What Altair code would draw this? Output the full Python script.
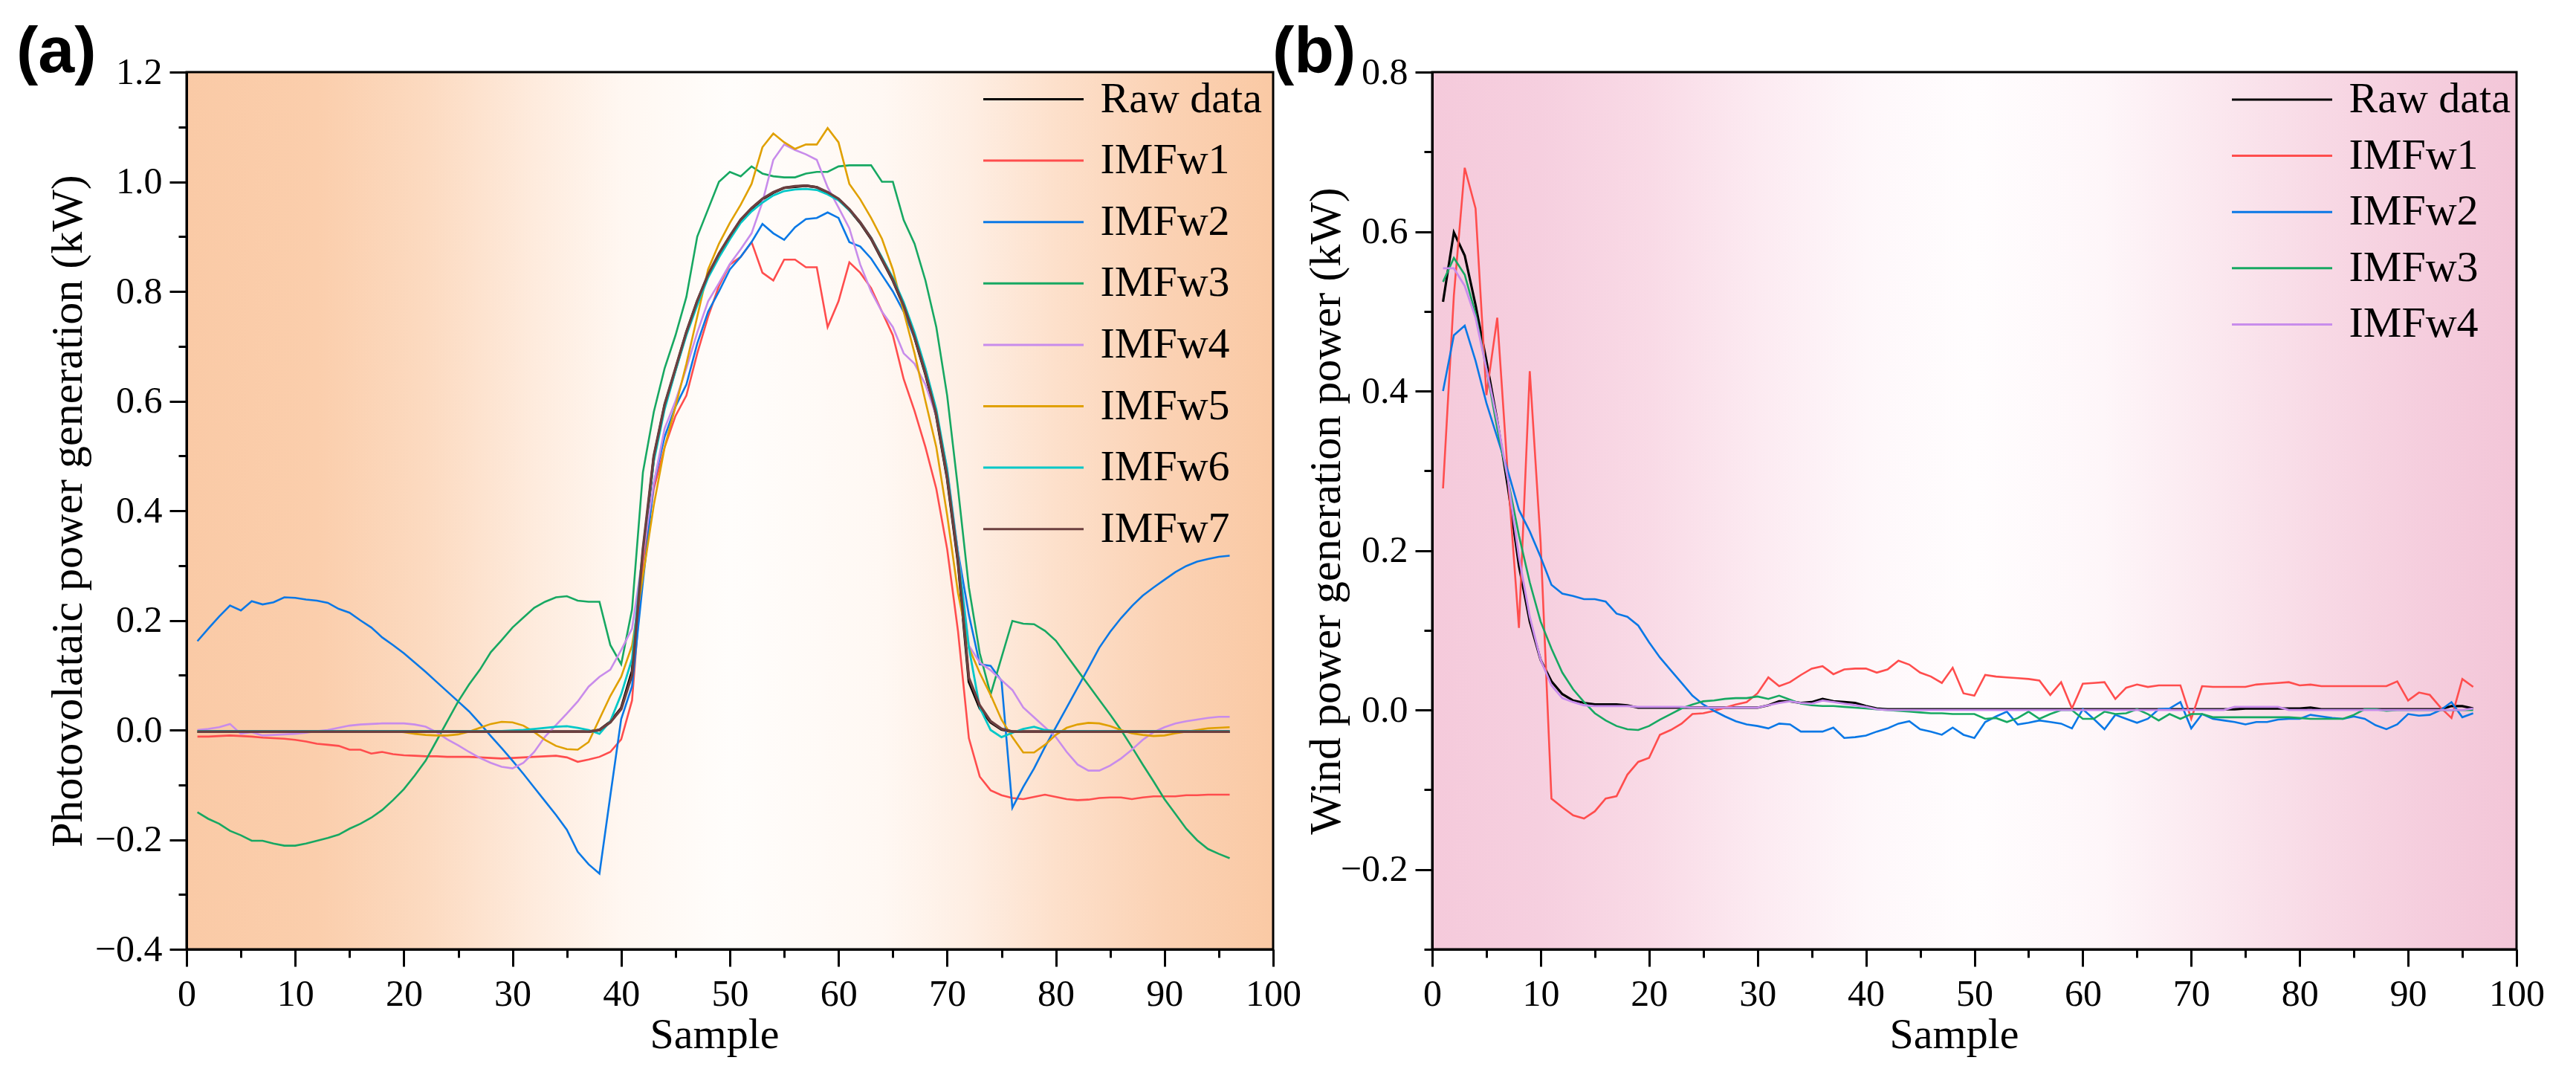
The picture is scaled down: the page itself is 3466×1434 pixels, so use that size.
import altair as alt
import pandas as pd

samples = list(range(1, 97))

# ---------------- panel (a): photovoltaic ----------------
a_names = ["Raw data", "IMFw1", "IMFw2", "IMFw3", "IMFw4", "IMFw5", "IMFw6", "IMFw7"]
a_colors = ["#000000", "#FF4D4D", "#0A78E6", "#17A862", "#C88CEB", "#E0A000", "#00C8C8", "#6B3F3F"]
a_widths = [3.5, 2.6, 2.6, 2.6, 2.6, 2.6, 2.8, 3.5]

a_raw = [
    -0.003, -0.003, -0.003, -0.003, -0.003, -0.003, -0.003, -0.003, -0.003, -0.003, -0.003, -0.003,
    -0.003, -0.003, -0.003, -0.003, -0.003, -0.003, -0.003, -0.003, -0.003, -0.003, -0.003, -0.003,
    -0.003, -0.003, -0.003, -0.003, -0.003, -0.003, -0.003, -0.003, -0.003, -0.003, -0.003, -0.003,
    -0.003, 0.000, 0.015, 0.040, 0.107, 0.320, 0.497, 0.592, 0.658, 0.725, 0.782, 0.830,
    0.868, 0.900, 0.930, 0.951, 0.968, 0.980, 0.989, 0.991, 0.993, 0.990, 0.980, 0.968,
    0.949, 0.925, 0.896, 0.858, 0.820, 0.773, 0.716, 0.649, 0.573, 0.459, 0.306, 0.088,
    0.040, 0.014, 0.001, -0.003, -0.003, -0.003, -0.003, -0.003, -0.003, -0.003, -0.003, -0.003,
    -0.003, -0.003, -0.003, -0.003, -0.003, -0.003, -0.003, -0.003, -0.003, -0.003, -0.003, -0.003,
]
a_w1 = [
    -0.012, -0.012, -0.011, -0.010, -0.011, -0.012, -0.014, -0.015, -0.016, -0.018, -0.021, -0.025,
    -0.027, -0.029, -0.036, -0.036, -0.043, -0.040, -0.044, -0.046, -0.047, -0.048, -0.048, -0.049,
    -0.049, -0.049, -0.050, -0.051, -0.052, -0.051, -0.050, -0.049, -0.048, -0.047, -0.050, -0.058,
    -0.054, -0.049, -0.040, -0.017, 0.054, 0.306, 0.440, 0.516, 0.573, 0.610, 0.687, 0.754,
    0.810, 0.849, 0.863, 0.890, 0.834, 0.820, 0.858, 0.858, 0.844, 0.844, 0.735, 0.782,
    0.853, 0.834, 0.806, 0.763, 0.720, 0.640, 0.582, 0.516, 0.440, 0.330, 0.180, -0.015,
    -0.085, -0.110, -0.119, -0.124, -0.126, -0.122, -0.118, -0.122, -0.126, -0.128, -0.127, -0.124,
    -0.123, -0.123, -0.126, -0.123, -0.121, -0.121, -0.121, -0.119, -0.119, -0.118, -0.118, -0.118,
]
a_w2 = [
    0.162, 0.185, 0.207, 0.227, 0.218, 0.235, 0.229, 0.233, 0.242, 0.241, 0.238, 0.236,
    0.232, 0.221, 0.214, 0.200, 0.187, 0.169, 0.155, 0.140, 0.123, 0.106, 0.088, 0.070,
    0.052, 0.034, 0.012, -0.011, -0.033, -0.056, -0.080, -0.105, -0.130, -0.155, -0.182, -0.222,
    -0.245, -0.262, -0.120, 0.020, 0.080, 0.270, 0.450, 0.535, 0.590, 0.630, 0.705, 0.763,
    0.800, 0.840, 0.863, 0.890, 0.923, 0.906, 0.894, 0.917, 0.932, 0.934, 0.944, 0.934,
    0.890, 0.882, 0.860, 0.830, 0.800, 0.763, 0.715, 0.658, 0.580, 0.460, 0.325, 0.210,
    0.120, 0.117, 0.090, -0.142, -0.104, -0.070, -0.031, 0.005, 0.041, 0.077, 0.113, 0.150,
    0.179, 0.204, 0.226, 0.245, 0.260, 0.274, 0.288, 0.299, 0.307, 0.312, 0.316, 0.318,
]
a_w3 = [
    -0.150, -0.162, -0.171, -0.184, -0.192, -0.202, -0.202, -0.207, -0.211, -0.211, -0.207, -0.202,
    -0.197, -0.191, -0.180, -0.171, -0.160, -0.146, -0.128, -0.108, -0.083, -0.056, -0.020, 0.016,
    0.052, 0.083, 0.110, 0.142, 0.164, 0.187, 0.205, 0.223, 0.234, 0.242, 0.244, 0.236,
    0.234, 0.234, 0.155, 0.120, 0.220, 0.470, 0.580, 0.660, 0.720, 0.790, 0.900, 0.950,
    1.000, 1.018, 1.010, 1.028, 1.015, 1.010, 1.008, 1.008, 1.015, 1.018, 1.018, 1.028,
    1.030, 1.030, 1.030, 1.000, 1.000, 0.930, 0.887, 0.820, 0.735, 0.610, 0.440, 0.260,
    0.140, 0.065, 0.132, 0.199, 0.194, 0.193, 0.181, 0.163, 0.136, 0.109, 0.082, 0.055,
    0.028, 0.000, -0.031, -0.063, -0.094, -0.126, -0.153, -0.180, -0.201, -0.217, -0.226, -0.234,
]
a_w4 = [
    0.000, 0.002, 0.005, 0.011, -0.007, -0.004, -0.010, -0.009, -0.008, -0.007, -0.005, -0.002,
    0.000, 0.004, 0.008, 0.010, 0.011, 0.012, 0.012, 0.012, 0.010, 0.006, -0.004, -0.017,
    -0.028, -0.040, -0.051, -0.060, -0.067, -0.070, -0.060, -0.040, -0.012, 0.009, 0.030, 0.052,
    0.079, 0.097, 0.110, 0.146, 0.185, 0.320, 0.450, 0.550, 0.600, 0.660, 0.725, 0.782,
    0.815, 0.850, 0.877, 0.906, 0.963, 1.040, 1.068, 1.058, 1.050, 1.040, 0.990, 0.953,
    0.915, 0.849, 0.800, 0.763, 0.735, 0.687, 0.668, 0.630, 0.573, 0.478, 0.325, 0.154,
    0.123, 0.109, 0.091, 0.073, 0.041, 0.023, 0.005, -0.013, -0.040, -0.063, -0.074, -0.074,
    -0.065, -0.052, -0.036, -0.018, -0.004, 0.005, 0.012, 0.016, 0.019, 0.022, 0.024, 0.024,
]
a_w5 = [
    -0.002, -0.002, -0.002, -0.002, -0.002, -0.002, -0.002, -0.002, -0.002, -0.002, -0.002, -0.002,
    -0.002, -0.002, -0.002, -0.002, -0.002, -0.002, -0.002, -0.004, -0.007, -0.009, -0.010, -0.010,
    -0.008, -0.003, 0.004, 0.011, 0.015, 0.014, 0.008, -0.004, -0.018, -0.029, -0.035, -0.036,
    -0.022, 0.020, 0.062, 0.097, 0.154, 0.280, 0.410, 0.516, 0.590, 0.668, 0.754, 0.840,
    0.887, 0.925, 0.958, 0.996, 1.063, 1.088, 1.072, 1.060, 1.068, 1.068, 1.098, 1.072,
    0.996, 0.968, 0.934, 0.896, 0.840, 0.763, 0.687, 0.600, 0.516, 0.392, 0.250, 0.150,
    0.104, 0.064, 0.019, -0.013, -0.041, -0.041, -0.027, -0.009, 0.004, 0.010, 0.013, 0.012,
    0.007, 0.000, -0.006, -0.009, -0.011, -0.010, -0.006, -0.003, 0.000, 0.003, 0.004, 0.005,
]
a_w6 = [
    -0.002, -0.002, -0.002, -0.002, -0.002, -0.002, -0.002, -0.002, -0.002, -0.002, -0.002, -0.002,
    -0.002, -0.002, -0.002, -0.002, -0.002, -0.002, -0.002, -0.002, -0.002, -0.002, -0.002, -0.002,
    -0.002, -0.002, -0.002, -0.002, -0.002, -0.001, 0.000, 0.002, 0.004, 0.006, 0.007, 0.004,
    0.000, -0.007, 0.016, 0.065, 0.130, 0.330, 0.490, 0.585, 0.655, 0.720, 0.775, 0.825,
    0.862, 0.895, 0.925, 0.946, 0.962, 0.975, 0.983, 0.986, 0.987, 0.985, 0.977, 0.966,
    0.948, 0.926, 0.898, 0.862, 0.825, 0.780, 0.725, 0.660, 0.585, 0.475, 0.320, 0.150,
    0.041, 0.000, -0.013, -0.005, 0.002, 0.006, 0.000, -0.002, -0.002, -0.002, -0.002, -0.002,
    -0.002, -0.002, -0.002, -0.002, -0.002, -0.002, -0.002, -0.002, -0.002, -0.002, -0.002, -0.002,
]
a_w7 = [
    -0.003, -0.003, -0.003, -0.003, -0.003, -0.003, -0.003, -0.003, -0.003, -0.003, -0.003, -0.003,
    -0.003, -0.003, -0.003, -0.003, -0.003, -0.003, -0.003, -0.003, -0.003, -0.003, -0.003, -0.003,
    -0.003, -0.003, -0.003, -0.003, -0.003, -0.003, -0.003, -0.003, -0.003, -0.003, -0.003, -0.003,
    -0.003, 0.000, 0.014, 0.038, 0.100, 0.330, 0.500, 0.594, 0.660, 0.726, 0.783, 0.831,
    0.869, 0.901, 0.931, 0.952, 0.969, 0.981, 0.989, 0.992, 0.993, 0.990, 0.981, 0.969,
    0.950, 0.926, 0.897, 0.859, 0.821, 0.774, 0.717, 0.651, 0.575, 0.462, 0.310, 0.095,
    0.045, 0.016, 0.002, -0.003, -0.003, -0.003, -0.003, -0.003, -0.003, -0.003, -0.003, -0.003,
    -0.003, -0.003, -0.003, -0.003, -0.003, -0.003, -0.003, -0.003, -0.003, -0.003, -0.003, -0.003,
]
a_series = [a_raw, a_w1, a_w2, a_w3, a_w4, a_w5, a_w6, a_w7]

# ---------------- panel (b): wind ----------------
b_names = ["Raw data", "IMFw1", "IMFw2", "IMFw3", "IMFw4"]
b_colors = ["#000000", "#FF4D4D", "#0A78E6", "#17A862", "#C88CEB"]
b_widths = [3.2, 2.6, 2.6, 2.6, 2.8]

b_raw = [
    0.512, 0.599, 0.570, 0.508, 0.438, 0.363, 0.278, 0.181, 0.111, 0.063, 0.036, 0.020,
    0.012, 0.009, 0.007, 0.007, 0.007, 0.006, 0.003, 0.003, 0.003, 0.003, 0.003, 0.003,
    0.003, 0.003, 0.003, 0.003, 0.003, 0.003, 0.006, 0.011, 0.011, 0.009, 0.010, 0.014,
    0.011, 0.010, 0.009, 0.005, 0.002, 0.001, 0.001, 0.001, 0.001, 0.001, 0.001, 0.001,
    0.001, 0.001, 0.001, 0.001, 0.001, 0.001, 0.001, 0.001, 0.001, 0.001, 0.001, 0.001,
    0.001, 0.001, 0.001, 0.001, 0.001, 0.001, 0.001, 0.001, 0.001, 0.001, 0.001, 0.001,
    0.001, 0.001, 0.002, 0.002, 0.002, 0.002, 0.002, 0.002, 0.003, 0.001, 0.001, 0.001,
    0.001, 0.001, 0.001, 0.001, 0.001, 0.001, 0.001, 0.001, 0.001, 0.005, 0.005, 0.002,
]
b_w1 = [
    0.278, 0.520, 0.680, 0.629, 0.395, 0.492, 0.290, 0.103, 0.425, 0.210, -0.111, -0.122,
    -0.132, -0.136, -0.127, -0.111, -0.108, -0.081, -0.065, -0.060, -0.031, -0.025, -0.017, -0.005,
    -0.004, -0.001, 0.003, 0.007, 0.010, 0.021, 0.041, 0.030, 0.035, 0.044, 0.052, 0.055,
    0.045, 0.051, 0.052, 0.052, 0.047, 0.051, 0.062, 0.057, 0.047, 0.042, 0.034, 0.053,
    0.021, 0.018, 0.044, 0.042, 0.041, 0.040, 0.039, 0.037, 0.019, 0.035, 0.002, 0.033,
    0.034, 0.035, 0.014, 0.028, 0.032, 0.029, 0.031, 0.031, 0.031, -0.011, 0.030, 0.029,
    0.029, 0.029, 0.029, 0.032, 0.033, 0.034, 0.035, 0.031, 0.032, 0.030, 0.030, 0.030,
    0.030, 0.030, 0.030, 0.030, 0.036, 0.012, 0.022, 0.019, 0.003, -0.010, 0.039, 0.029,
]
b_w2 = [
    0.400, 0.470, 0.482, 0.438, 0.385, 0.342, 0.299, 0.251, 0.224, 0.192, 0.157, 0.146,
    0.143, 0.139, 0.139, 0.136, 0.121, 0.117, 0.106, 0.085, 0.066, 0.050, 0.034, 0.018,
    0.007, -0.001, -0.008, -0.014, -0.018, -0.020, -0.023, -0.017, -0.018, -0.027, -0.027, -0.027,
    -0.022, -0.035, -0.034, -0.032, -0.027, -0.023, -0.017, -0.014, -0.024, -0.027, -0.031, -0.022,
    -0.031, -0.035, -0.015, -0.008, -0.002, -0.018, -0.016, -0.013, -0.015, -0.017, -0.023, 0.001,
    -0.011, -0.024, -0.006, -0.011, -0.016, -0.011, 0.001, 0.002, 0.010, -0.023, -0.005, -0.011,
    -0.013, -0.015, -0.018, -0.015, -0.015, -0.012, -0.011, -0.011, -0.006, -0.008, -0.010, -0.011,
    -0.008, -0.011, -0.019, -0.024, -0.018, -0.005, -0.007, -0.006, 0.000, 0.010, -0.009, -0.004,
]
b_w3 = [
    0.537, 0.567, 0.546, 0.497, 0.428, 0.353, 0.288, 0.219, 0.160, 0.111, 0.077, 0.047,
    0.026, 0.010, -0.004, -0.013, -0.020, -0.024, -0.025, -0.020, -0.012, -0.005, 0.002, 0.007,
    0.011, 0.012, 0.014, 0.015, 0.015, 0.017, 0.014, 0.018, 0.013, 0.008, 0.006, 0.005,
    0.005, 0.004, 0.003, 0.002, 0.001, 0.000, -0.001, -0.002, -0.003, -0.004, -0.004, -0.005,
    -0.005, -0.005, -0.011, -0.010, -0.015, -0.010, -0.002, -0.011, -0.005, 0.000, 0.000, -0.011,
    -0.011, -0.002, -0.005, -0.004, 0.001, -0.005, -0.013, -0.005, -0.011, -0.005, -0.005, -0.009,
    -0.009, -0.009, -0.009, -0.009, -0.009, -0.009, -0.009, -0.010, -0.011, -0.011, -0.011, -0.011,
    -0.006, 0.001, 0.001, -0.001, 0.000, 0.000, 0.000, 0.000, 0.000, 0.000, 0.000, 0.000,
]
b_w4 = [
    0.554, 0.554, 0.532, 0.492, 0.428, 0.363, 0.288, 0.192, 0.117, 0.063, 0.031, 0.015,
    0.010, 0.006, 0.005, 0.005, 0.005, 0.005, 0.004, 0.004, 0.004, 0.004, 0.004, 0.003,
    0.003, 0.003, 0.003, 0.003, 0.003, 0.003, 0.006, 0.009, 0.011, 0.009, 0.008, 0.012,
    0.010, 0.008, 0.006, 0.004, 0.001, 0.000, 0.000, 0.000, 0.000, 0.000, 0.000, 0.000,
    0.000, 0.000, 0.000, 0.000, 0.000, 0.000, 0.000, 0.000, 0.000, 0.000, 0.000, 0.000,
    0.000, 0.000, 0.000, 0.000, 0.000, 0.000, 0.000, 0.000, 0.000, 0.000, 0.000, 0.000,
    0.000, 0.004, 0.004, 0.004, 0.004, 0.004, 0.000, 0.000, 0.000, 0.000, 0.000, 0.000,
    0.000, 0.000, 0.000, 0.000, 0.000, 0.000, 0.000, 0.000, 0.000, 0.000, 0.000, 0.002,
]
b_series = [b_raw, b_w1, b_w2, b_w3, b_w4]

# axes
x_domain = [0, 100]
x_ticks = [0, 5, 10, 15, 20, 25, 30, 35, 40, 45, 50, 55, 60, 65, 70, 75, 80, 85, 90, 95, 100]
a_y_domain = [-0.4, 1.2]
a_y_ticks = [-0.4, -0.3, -0.2, -0.1, 0.0, 0.1, 0.2, 0.3, 0.4, 0.5, 0.6, 0.7, 0.8, 0.9, 1.0, 1.1, 1.2]
b_y_domain = [-0.3, 0.8]
b_y_ticks = [-0.3, -0.2, -0.1, 0.0, 0.1, 0.2, 0.3, 0.4, 0.5, 0.6, 0.7, 0.8]

# background gradients
a_grad_offsets = [0.0, 0.12, 0.22, 0.32, 0.40, 0.50, 0.64, 0.72, 0.80, 0.90, 1.0]
a_grad_colors = ["#FACAA6", "#FBCEAC", "#FCDAC0", "#FEEBDD", "#FFF7F1", "#FFFDFB",
                 "#FFF8F3", "#FEEEE3", "#FDE0CB", "#FBD2B4", "#FAC9A4"]
b_grad_offsets = [0.0, 0.10, 0.20, 0.30, 0.40, 0.50, 0.62, 0.72, 0.82, 0.92, 1.0]
b_grad_colors = ["#F5CADB", "#F6CFDF", "#F9DAE6", "#FCEAF1", "#FEF7FA", "#FFFDFE",
                 "#FEF6F9", "#FBE8EF", "#F8D9E5", "#F5CDDD", "#F3C6D8"]

SERIF = "Liberation Serif"
SANS = "Liberation Sans"


def long_df(names, series):
    rows = []
    for n, vals in zip(names, series):
        for s, v in zip(samples, vals):
            rows.append({"Sample": s, "value": v, "series": n})
    return pd.DataFrame(rows)


def panel(names, series, colors, widths, y_domain, y_ticks, width, height,
          grad_offsets, grad_colors, label, label_dx, label_dy, ytitle, ytitle_x, xtitle_x,
          legend_x, legend_y, row_pad):
    df = long_df(names, series)
    box = pd.DataFrame({"x": [x_domain[0]], "x2": [x_domain[1]],
                        "y": [y_domain[0]], "y2": [y_domain[1]]})
    xscale = alt.Scale(domain=x_domain, nice=False, zero=False)
    yscale = alt.Scale(domain=y_domain, nice=False, zero=False)

    xaxis = alt.Axis(
        values=x_ticks, title="Sample", titleFont=SERIF, titleFontSize=58,
        titleFontWeight="normal", titleColor="black", titleX=xtitle_x, titleY=132,
        titleBaseline="alphabetic", titleLimit=3000,
        labelExpr="datum.value % 10 == 0 ? datum.label : ''",
        labelFont=SERIF, labelFontSize=50, labelColor="black", labelPadding=12,
        labelFlush=False, labelOverlap=False,
        tickSize={"condition": {"test": "datum.value % 10 == 0", "value": 23}, "value": 11},
        tickColor="black", tickWidth=3, domainColor="black", domainWidth=3,
        grid=False, zindex=1,
    )
    yaxis = alt.Axis(
        values=y_ticks, title=ytitle, titleFont=SERIF, titleFontSize=60,
        titleFontWeight="normal", titleColor="black", titleX=ytitle_x,
        titleBaseline="bottom", titleAngle=270, titleLimit=3000,
        labelExpr="abs(round(datum.value*10)) % 2 == 0 ? format(datum.value, '.1f') : ''",
        labelFont=SERIF, labelFontSize=50, labelColor="black", labelPadding=10,
        labelFlush=False, labelOverlap=False,
        tickSize={"condition": {"test": "abs(round(datum.value*10)) % 2 == 0", "value": 23}, "value": 11},
        tickColor="black", tickWidth=3, domainColor="black", domainWidth=3,
        grid=False, zindex=1,
    )

    gradient = {
        "gradient": "linear", "x1": 0, "x2": 1, "y1": 0, "y2": 0,
        "stops": [{"offset": o, "color": c} for o, c in zip(grad_offsets, grad_colors)],
    }
    bg = alt.Chart(box).mark_rect(fill=gradient, strokeWidth=0).encode(
        x=alt.X("x:Q", scale=xscale, axis=xaxis),
        x2="x2:Q",
        y=alt.Y("y:Q", scale=yscale, axis=yaxis),
        y2="y2:Q",
    )

    legend = alt.Legend(
        title=None, orient="none", legendX=legend_x, legendY=legend_y,
        symbolType="M-1,0H5", symbolSize=2025, symbolStrokeWidth=3,
        labelFont=SERIF, labelFontSize=58, labelColor="black", labelOffset=106,
        rowPadding=row_pad, padding=0, labelLimit=0,
    )
    cscale = alt.Scale(domain=names, range=colors)
    lines = []
    for n, w in zip(names, widths):
        lines.append(
            alt.Chart(df).transform_filter(alt.datum.series == n)
            .mark_line(strokeWidth=w)
            .encode(
                x=alt.X("Sample:Q", scale=xscale, axis=xaxis),
                y=alt.Y("value:Q", scale=yscale, axis=yaxis),
                color=alt.Color("series:N", scale=cscale, legend=legend),
            )
        )
    frame = alt.Chart(box).mark_rect(fillOpacity=0, stroke="black", strokeWidth=3).encode(
        x=alt.X("x:Q", scale=xscale, axis=xaxis),
        x2="x2:Q",
        y=alt.Y("y:Q", scale=yscale, axis=yaxis),
        y2="y2:Q",
    )
    return alt.layer(bg, *lines, frame).properties(
        width=width, height=height,
        title=alt.TitleParams(text=label, anchor="start", frame="group", font=SANS,
                              fontSize=88, fontWeight="bold", color="black",
                              dx=label_dx, dy=label_dy, offset=0, baseline="alphabetic"),
    )


pa = panel(a_names, a_series, a_colors, a_widths, a_y_domain, a_y_ticks, 1462, 1180,
           a_grad_offsets, a_grad_colors, "(a)", -229, 113,
           "Photovolataic power generation (kW)", -129, 710, 1065.5, 7.5, 24.6)
pb = panel(b_names, b_series, b_colors, b_widths, b_y_domain, b_y_ticks, 1459, 1180,
           b_grad_offsets, b_grad_colors, "(b)", -215, 113,
           "Wind power generation power (kW)", -112, 702, 1069.5, 8, 17.6)

chart = (
    alt.hconcat(pa, pb, spacing=214, bounds="flush")
    .resolve_scale(color="independent")
    .properties(padding={"left": 14, "top": 19, "right": 5, "bottom": 5}, background="white")
    .configure_view(strokeWidth=0)
)

chart.save("out.html", embed_options={"renderer": "svg", "actions": False})
